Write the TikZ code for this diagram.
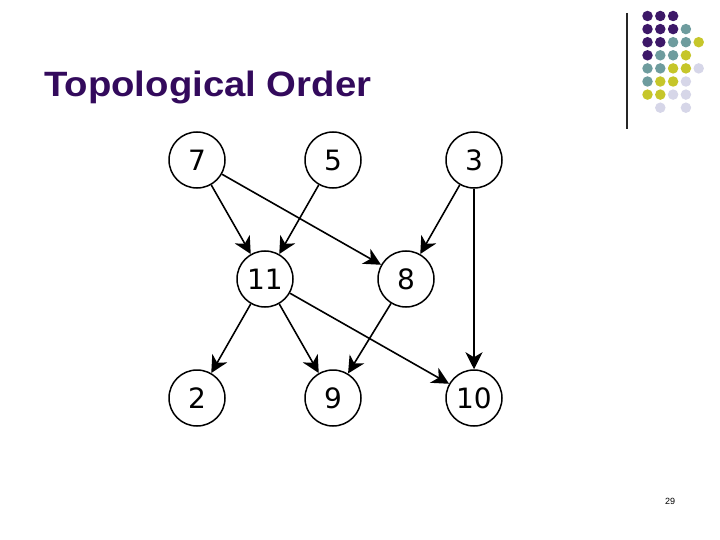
\documentclass[tikz,border=0pt]{standalone}
\usepackage{fontspec}
\setmainfont{Liberation Sans}
\newfontfamily\dvfont{DejaVu Sans}
\newfontfamily\titlefont{Liberation Sans}[BoldFont={* Bold}]
\usetikzlibrary{arrows.meta}
\definecolor{dpurple}{HTML}{3D1868}
\definecolor{dteal}{HTML}{6E9C9E}
\definecolor{dyellow}{HTML}{C6C62A}
\definecolor{dlav}{HTML}{D6D6E8}
\definecolor{titlecol}{HTML}{330A5C}
\tikzset{
  vtx/.style={circle, draw=black, line width=1.5pt, minimum size=56pt, inner sep=0pt,
    font=\dvfont\fontsize{28}{30}\selectfont},
  edge/.style={line width=1.6pt, -{Stealth[length=17pt,width=17pt,inset=5pt]}},
  dot/.style={circle, fill=#1, minimum size=10.5pt, inner sep=0pt},
}
\begin{document}
\begin{tikzpicture}[x=1pt,y=-1pt]
\useasboundingbox (0,0) rectangle (720,540);
% decorative dots
\foreach \c/\r/\col in {0/0/dpurple,1/0/dpurple,2/0/dpurple,
  0/1/dpurple,1/1/dpurple,2/1/dpurple,3/1/dteal,
  0/2/dpurple,1/2/dpurple,2/2/dteal,3/2/dteal,4/2/dyellow,
  0/3/dpurple,1/3/dteal,2/3/dteal,3/3/dyellow,
  0/4/dteal,1/4/dteal,2/4/dyellow,3/4/dyellow,4/4/dlav,
  0/5/dteal,1/5/dyellow,2/5/dyellow,3/5/dlav,
  0/6/dyellow,1/6/dyellow,2/6/dlav,3/6/dlav,
  1/7/dlav,3/7/dlav}
  \node[dot=\col] (d\c\r) at ({647.5+12.8*\c},{16+13.1*\r}) {};
\coordinate (vlt) at (627,13);
\coordinate (vlb) at (627,129);
\draw[line width=1.1pt, black!85] (vlt) -- (vlb);
% title
\node[anchor=base west, inner sep=0pt, text=titlecol] (title) at (44,97)
  {\resizebox{327pt}{25.5pt}{\titlefont\bfseries Topological Order}};
% graph
\node[vtx] (n7) at (197,160) {7};
\node[vtx] (n5) at (333,160) {5};
\node[vtx] (n3) at (474,160) {3};
\node[vtx] (n11) at (265,279) {11};
\node[vtx] (n8) at (406,279) {8};
\node[vtx] (n2) at (197,398) {2};
\node[vtx] (n9) at (333,398) {9};
\node[vtx] (n10) at (474,398) {10};
\draw[edge] (n7) -- (n11);
\draw[edge] (n7) -- (n8);
\draw[edge] (n5) -- (n11);
\draw[edge] (n3) -- (n8);
\draw[edge] (n3) -- (n10);
\draw[edge] (n11) -- (n2);
\draw[edge] (n11) -- (n9);
\draw[edge] (n11) -- (n10);
\draw[edge] (n8) -- (n9);
% page number
\node[font=\fontsize{9}{10}\selectfont] (pg) at (670,501) {29};
\end{tikzpicture}
\end{document}
